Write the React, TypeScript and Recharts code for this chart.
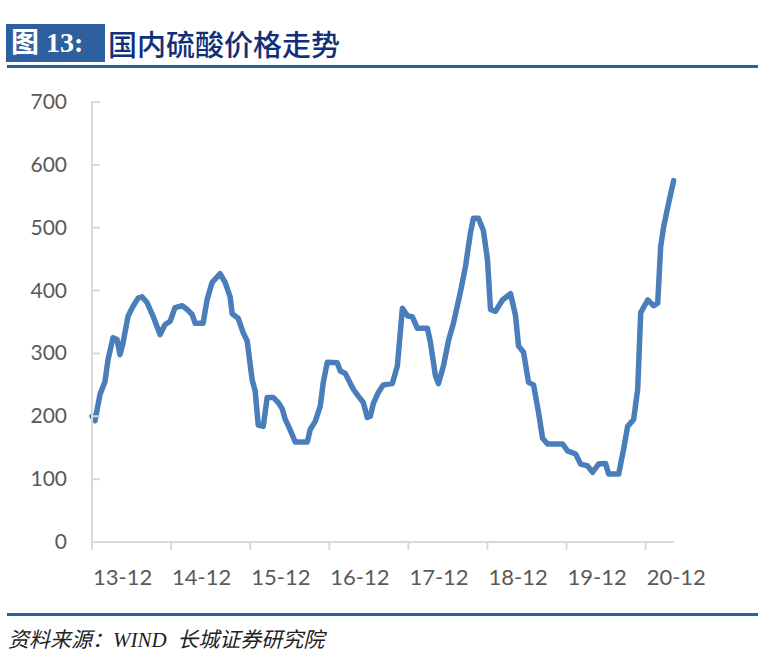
import * as React from "react";
import { LineChart, Line, XAxis, YAxis } from "recharts";

// months since Dec 2013
const months = [
  0, 0.46, 1.22, 1.97, 2.43, 3.19, 3.8, 4.25, 4.71, 5.47, 6.23, 6.99, 7.59, 8.35, 9.27,
  10.33, 11.09, 11.85, 12.61, 13.67, 14.43, 15.19, 15.65, 16.86, 17.47, 18.23, 19.44,
  20.2, 20.96, 21.27, 22.18, 22.94, 23.54, 24.3, 24.76, 25.22, 25.98, 26.58, 27.49,
  28.25, 28.86, 29.32, 30.08, 30.84, 32.66, 33.11, 33.87, 34.63, 35.09, 35.7, 37.22,
  37.67, 38.43, 39.65, 40.41, 41.16, 41.77, 42.23, 42.68, 43.44, 44.2, 45.57, 46.33,
  47.09, 47.85, 48.61, 49.37, 50.89, 51.34, 52.1, 52.56, 53.32, 54.08, 54.84, 55.9,
  56.66, 57.42, 57.87, 58.63, 59.39, 60.0, 60.46, 61.22, 62.28, 63.5, 64.26, 64.71,
  65.47, 66.23, 66.99, 67.75, 68.36, 69.11, 71.39, 72.15, 73.37, 74.13, 75.19, 75.95,
  76.86, 77.93, 78.38, 79.9, 80.66, 81.27, 82.18, 82.79, 83.25, 84.31, 85.22, 85.83,
  86.28, 86.74, 87.5, 88.25,
];

// 硫酸价格 (元/吨)
const prices = [
  200, 193, 235, 255, 290, 325, 322, 298, 317, 359, 375, 388, 390, 381, 359,
  330, 346, 351, 373, 376, 370, 362, 348, 348, 386, 413, 427,
  413, 390, 363, 356, 333, 320, 258, 240, 186, 184, 230, 230,
  222, 212, 195, 178, 159, 159, 179, 192, 216, 254, 286, 285,
  272, 268, 243, 232, 222, 198, 200, 220, 238, 250, 252, 280,
  372, 360, 358, 340, 340, 318, 265, 252, 280, 320, 348, 398,
  438, 492, 515, 515, 495, 449, 370, 367, 385, 395, 360, 312,
  302, 254, 250, 206, 165, 156, 156, 145, 140, 124, 121, 111,
  124, 125, 108, 108, 148, 184, 195, 243, 365, 385, 376, 380,
  470, 502, 540, 575,
];

const xTicks = [0, 12, 24, 36, 48, 60, 72, 84];
const xLabels = ["13-12", "14-12", "15-12", "16-12", "17-12", "18-12", "19-12", "20-12"];
const yTicks = [0, 100, 200, 300, 400, 500, 600, 700];

const data = months.map((m, i) => ({ m, price: prices[i] }));

const AXIS = "#d9d9d9";
const LABEL = "#595959";
const FONT = "Lato, 'Noto Sans', sans-serif";

function XTick({ x, y, payload }: any) {
  const idx = xTicks.indexOf(payload.value);
  return (
    <text x={x + 1} y={y + 35} textAnchor="start" fill={LABEL} fontSize={22} fontFamily={FONT}>
      {xLabels[idx]}
    </text>
  );
}

function YTick({ x, y, payload }: any) {
  return (
    <g>
      <line x1={x} x2={x + 8} y1={y} y2={y} stroke={AXIS} strokeWidth={2} />
      <text x={x - 25} y={y + 7} textAnchor="end" fill={LABEL} fontSize={21} fontFamily={FONT}>
        {payload.value}
      </text>
    </g>
  );
}

export default function App() {
  return (
    <div
      style={{
        position: "absolute",
        left: 0,
        top: 0,
        width: 783,
        height: 667,
        background: "#fff",
        overflow: "hidden",
      }}
    >
      <LineChart
        width={783}
        height={667}
        data={data}
        margin={{ top: 102, right: 109, bottom: 65, left: 0 }}
      >
        <XAxis
          dataKey="m"
          type="number"
          domain={[0, 88.3]}
          ticks={xTicks}
          interval={0}
          height={60}
          axisLine={{ stroke: AXIS, strokeWidth: 2 }}
          tickLine={{ stroke: AXIS, strokeWidth: 2 }}
          tickSize={8}
          tickMargin={0}
          tick={<XTick />}
        />
        <YAxis
          type="number"
          domain={[0, 700]}
          ticks={yTicks}
          interval={0}
          width={92}
          axisLine={{ stroke: AXIS, strokeWidth: 2 }}
          tickLine={false}
          tickSize={0}
          tickMargin={0}
          tick={<YTick />}
        />
        <Line
          type="linear"
          dataKey="price"
          stroke="#4a7ebb"
          strokeWidth={5.5}
          strokeLinejoin="round"
          strokeLinecap="round"
          dot={false}
          activeDot={false}
          isAnimationActive={false}
        />
      </LineChart>

      {/* title bar */}
      <div
        style={{
          position: "absolute",
          left: 6,
          top: 24,
          width: 99,
          height: 38,
          background: "#2e60a0",
          color: "#fff",
          fontFamily: "'Liberation Serif', 'Noto Sans CJK SC', serif",
          fontWeight: 700,
          fontSize: 28,
          lineHeight: "38px",
          paddingLeft: 5,
          boxSizing: "border-box",
          whiteSpace: "nowrap",
        }}
      >
        图 13:
      </div>
      <div
        style={{
          position: "absolute",
          left: 108,
          top: 24,
          height: 38,
          color: "#12307a",
          fontFamily: "'Noto Sans CJK SC', sans-serif",
          fontWeight: 500,
          fontSize: 29,
          lineHeight: "38px",
          whiteSpace: "nowrap",
        }}
      >
        国内硫酸价格走势
      </div>
      <div style={{ position: "absolute", left: 7, top: 65, width: 751, height: 3, background: "#2e60a0" }} />

      {/* footer */}
      <div style={{ position: "absolute", left: 7, top: 613, width: 751, height: 3, background: "#2e60a0" }} />
      <div
        style={{
          position: "absolute",
          left: 8,
          top: 625,
          color: "#222",
          fontFamily: "'Liberation Serif', 'Noto Sans CJK SC', serif",
          fontStyle: "italic",
          fontSize: 21,
          lineHeight: "30px",
          whiteSpace: "pre",
        }}
      >
        资料来源：WIND  长城证券研究院
      </div>
    </div>
  );
}
